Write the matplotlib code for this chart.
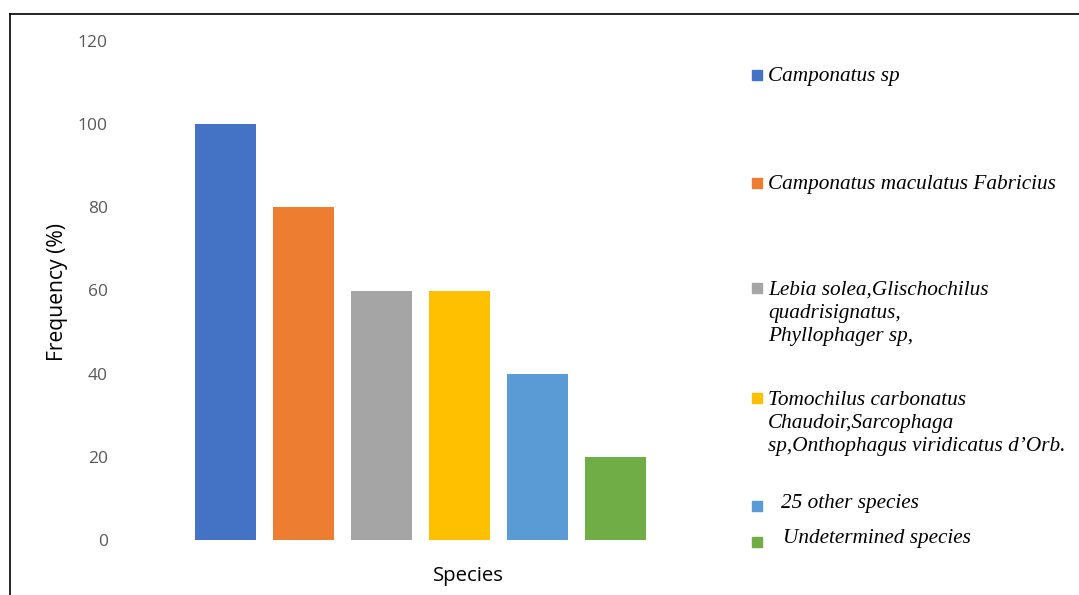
import matplotlib
matplotlib.use("Agg")
import matplotlib.pyplot as plt
from matplotlib.patches import Rectangle
from matplotlib.lines import Line2D

# data
species = [
    "Camponatus sp",
    "Camponatus maculatus Fabricius",
    "Lebia solea,Glischochilus\nquadrisignatus,\nPhyllophager sp,",
    "Tomochilus carbonatus\nChaudoir,Sarcophaga\nsp,Onthophagus viridicatus d\u2019Orb.",
    "25 other species",
    "Undetermined species",
]
frequency = [100, 80, 60, 60, 40, 20]
colors = ["#4472C4", "#ED7D31", "#A5A5A5", "#FFC000", "#5B9BD5", "#70AD47"]
y_ticks = [0, 20, 40, 60, 80, 100, 120]

W, H = 1079, 595
fig = plt.figure(figsize=(W / 100, H / 100), dpi=100)


def fx(px):
    return px / W


def fy(py):
    return 1 - py / H


# plot area in pixels
left, right, top, bottom = 110, 740, 41, 540
ax = fig.add_axes([fx(left), fy(bottom), fx(right - left), fy(top) - fy(bottom)])

x = list(range(len(frequency)))
ax.bar(x, frequency, width=61 / 78, color=colors)
ax.set_ylim(0, 120)
ax.set_xlim((left - 225.5) / 78, (right - 225.5) / 78)
ax.set_yticks(y_ticks)
ax.set_xticks([])
ax.tick_params(axis="y", length=0, pad=1.5, labelsize=12.5, labelcolor="#595959")
for lbl in ax.get_yticklabels():
    lbl.set_fontfamily("Open Sans")
for s in ax.spines.values():
    s.set_visible(False)

fig.text(fx(57), fy(292), "Frequency (%)", rotation=90, ha="center", va="center",
         fontsize=15.2, family="Open Sans", color="#000000")
fig.text(fx(468), fy(576), "Species", ha="center", va="center",
         fontsize=14.7, family="Open Sans", color="#000000")

# legend drawn by hand to keep the uneven spacing
marker_y = [75, 183, 288, 398, 506, 542]
text_y = [76, 184, 290, 400, 503, 538]
text_x = [768, 768, 768, 768, 781, 783]
for name, c, my, ty, tx in zip(species, colors, marker_y, text_y, text_x):
    fig.patches.append(Rectangle((fx(752), fy(my + 5)), fx(10), fy(my - 5) - fy(my + 5),
                                 transform=fig.transFigure, color=c, figure=fig))
    fig.text(fx(tx), fy(ty - 9), name, ha="left", va="top", fontsize=15.3,
             family="Liberation Serif", style="italic", linespacing=1.27)

# outer frame (top and left only visible)
fig.add_artist(Line2D([fx(9.5), 1], [fy(13.5), fy(13.5)], color="black", lw=1.2,
                      transform=fig.transFigure))
fig.add_artist(Line2D([fx(9.5), fx(9.5)], [fy(13.5), 0], color="black", lw=1.2,
                      transform=fig.transFigure))

fig.savefig("out.png", dpi=100)
